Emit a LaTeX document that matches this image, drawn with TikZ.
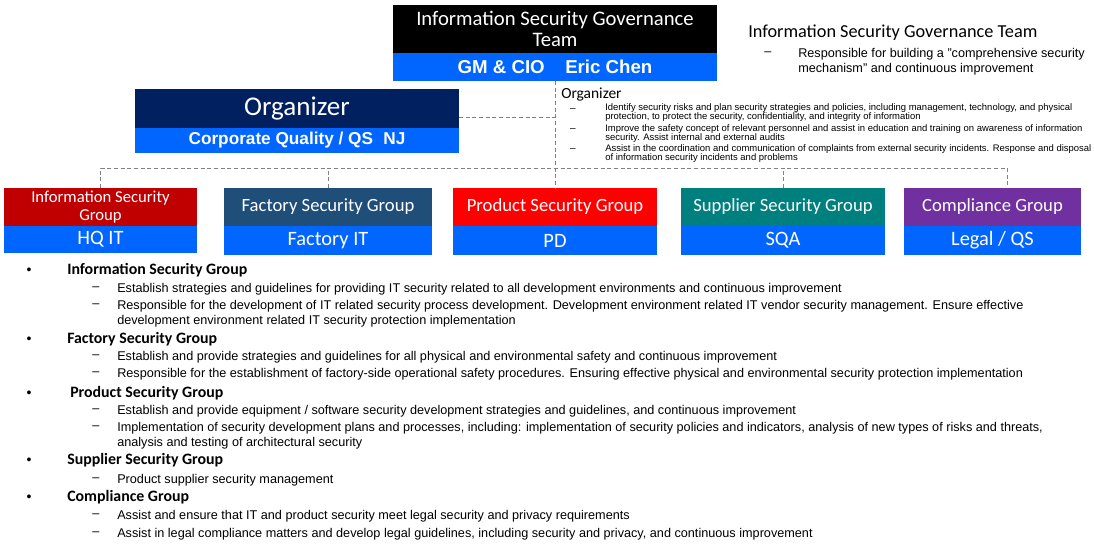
\documentclass[tikz,border=0pt]{standalone}
\usepackage{fontspec}
\setmainfont{Liberation Sans}
\newfontfamily\calibri{Carlito}
\usetikzlibrary{positioning}

\definecolor{unitblue}{HTML}{0066FF}
\definecolor{orgnavy}{HTML}{002060}
\definecolor{isgred}{HTML}{C00000}
\definecolor{fsgblue}{HTML}{1F4E79}
\definecolor{psgred}{HTML}{FF0000}
\definecolor{ssgteal}{HTML}{007F7F}
\definecolor{cgpurple}{HTML}{7030A0}

\begin{document}
\begin{tikzpicture}[
        x=0.75pt, y=-0.75pt,
        node distance=0pt,
        head/.style={inner sep=0pt, outer sep=0pt, minimum height=28.5pt, text=white, align=center,
            font=\calibri\fontsize{14}{16}\selectfont},
        unit/.style={fill=unitblue, inner sep=0pt, outer sep=0pt, minimum height=21.75pt, text=white,
            font=\calibri\fontsize{15.3}{17}\selectfont},
        link/.style={densely dashed, gray, line width=0.5pt},
        txt/.style={anchor=west, inner sep=0pt, align=left, font=\fontsize{9.5}{11.25}\selectfont},
        small/.style={anchor=west, inner sep=0pt, align=left, font=\fontsize{7.1}{6.75}\selectfont},
        hd/.style={anchor=west, inner sep=0pt, font=\calibri\bfseries\fontsize{11.9}{13}\selectfont},
        dashmark/.style={inner sep=0pt, font=\fontsize{9.5}{11}\selectfont},
        bul/.style={inner sep=0pt, font=\fontsize{10.5}{11}\selectfont}
    ]
        \useasboundingbox (0,0) rectangle (1094,544);

        % top boxes
        \node[head, fill=black, minimum width=243pt, minimum height=36pt,
            font=\calibri\fontsize{15.5}{15.75}\selectfont] (gov) at (555,29)
            {Information Security Governance\\Team};
        \node[unit, below=of gov, minimum width=243pt, minimum height=21pt,
            font=\bfseries\fontsize{14}{16}\selectfont] (gov_name) {GM \& CIO\hspace{1.1em}Eric Chen};

        \node[head, fill=orgnavy, minimum width=243pt, minimum height=29.25pt,
            font=\calibri\fontsize{20.3}{22}\selectfont] (org) at (297,108.5) {Organizer};
        \node[unit, below=of org, minimum width=243pt, minimum height=18.75pt,
            font=\bfseries\fontsize{12.9}{14}\selectfont] (org_name) {Corporate Quality / QS\hspace{0.6em}NJ};

        % groups
        \node[head, fill=isgred, minimum width=144.75pt, font=\calibri\fontsize{12.5}{13}\selectfont] (isg) at (100.5,207)
            {Information Security\\Group};
        \node[unit, below=of isg, minimum width=144.75pt, minimum height=20.25pt] (isg_unit) {HQ IT};

        \node[head, fill=fsgblue, minimum width=156pt] (fsg) at (328,207) {Factory Security Group};
        \node[unit, below=of fsg, minimum width=156pt] (fsg_unit) {Factory IT};

        \node[head, fill=psgred, minimum width=153pt] (psg) at (555,207) {Product Security Group};
        \node[unit, below=of psg, minimum width=153pt] (psg_unit) {PD};

        \node[head, fill=ssgteal, minimum width=153pt] (ssg) at (783,207) {Supplier Security Group};
        \node[unit, below=of ssg, minimum width=153pt] (ssg_unit) {SQA};

        \node[head, fill=cgpurple, minimum width=132.75pt] (cg) at (992.5,207) {Compliance Group};
        \node[unit, below=of cg, minimum width=132.75pt] (cg_unit) {Legal / QS};

        % dashed links
        \coordinate (bus) at (555,168);
        \coordinate (orgtap) at ([yshift=-6.4pt]org.east);
        \coordinate (cgtap) at ([xshift=10.9pt]cg.north);
        \draw[link] (gov_name) -- (psg);
        \draw[link] (orgtap) -- (orgtap -| bus);
        \draw[link] (isg) |- (cgtap |- bus) -- (cgtap);
        \draw[link] (fsg) -- (fsg |- bus);
        \draw[link] (ssg) -- (ssg |- bus);

        % governance note
        \node[anchor=west, inner sep=0pt, font=\calibri\fontsize{13.7}{15}\selectfont] (gov_note) at (748,33)
            {Information Security Governance Team};
        \node[dashmark] (gov_d) at (768,54) {--};
        \node[txt] (gov_t) at (798,61.5) {Responsible for building a "comprehensive security\\mechanism" and continuous improvement};

        % organizer note
        \node[anchor=west, inner sep=0pt, font=\calibri\fontsize{11.6}{13}\selectfont] (org_note) at (561,95) {Organizer};
        \node[dashmark, font=\fontsize{7.5}{8}\selectfont] (org_d1) at (573,110) {--};
        \node[small] (org_t1) at (605,112.5) {Identify security risks and plan security strategies and policies, including management, technology, and physical\\protection, to protect the security, confidentiality, and integrity of information};
        \node[dashmark, font=\fontsize{7.5}{8}\selectfont] (org_d2) at (573,130) {--};
        \node[small] (org_t2) at (605,133.5) {Improve the safety concept of relevant personnel and assist in education and training on awareness of information\\security. Assist internal and external audits};
        \node[dashmark, font=\fontsize{7.5}{8}\selectfont] (org_d3) at (573,150) {--};
        \node[small] (org_t3) at (605,153.5) {Assist in the coordination and communication of complaints from external security incidents. Response and disposal\\of information security incidents and problems};

        % group duties
        \node[bul] (b1) at (29,271) {•};
        \node[hd] (h1) at (67,270) {Information Security Group};
        \node[dashmark] (d11) at (96,289) {--};
        \node[txt] (t11) at (117,289) {Establish strategies and guidelines for providing IT security related to all development environments and continuous improvement};
        \node[dashmark] (d12) at (96,306) {--};
        \node[txt] (t12) at (117,313.5) {Responsible for the development of IT related security process development. Development environment related IT vendor security management. Ensure effective\\development environment related IT security protection implementation};

        \node[bul] (b2) at (29,340) {•};
        \node[hd] (h2) at (67,339) {Factory Security Group};
        \node[dashmark] (d21) at (96,357) {--};
        \node[txt] (t21) at (117,357) {Establish and provide strategies and guidelines for all physical and environmental safety and continuous improvement};
        \node[dashmark] (d22) at (96,374) {--};
        \node[txt] (t22) at (117,374) {Responsible for the establishment of factory-side operational safety procedures. Ensuring effective physical and environmental security protection implementation};

        \node[bul] (b3) at (29,394) {•};
        \node[hd] (h3) at (70,393) {Product Security Group};
        \node[dashmark] (d31) at (96,411) {--};
        \node[txt] (t31) at (117,411) {Establish and provide equipment / software security development strategies and guidelines, and continuous improvement};
        \node[dashmark] (d32) at (96,428) {--};
        \node[txt] (t32) at (117,435.5) {Implementation of security development plans and processes, including: implementation of security policies and indicators, analysis of new types of risks and threats,\\analysis and testing of architectural security};

        \node[bul] (b4) at (29,461) {•};
        \node[hd] (h4) at (67,460) {Supplier Security Group};
        \node[dashmark] (d41) at (96,480) {--};
        \node[txt] (t41) at (117,480) {Product supplier security management};

        \node[bul] (b5) at (29,498) {•};
        \node[hd] (h5) at (67,497) {Compliance Group};
        \node[dashmark] (d51) at (96,516) {--};
        \node[txt] (t51) at (117,516) {Assist and ensure that IT and product security meet legal security and privacy requirements};
        \node[dashmark] (d52) at (96,534) {--};
        \node[txt] (t52) at (117,534) {Assist in legal compliance matters and develop legal guidelines, including security and privacy, and continuous improvement};
    \end{tikzpicture}
\end{document}
